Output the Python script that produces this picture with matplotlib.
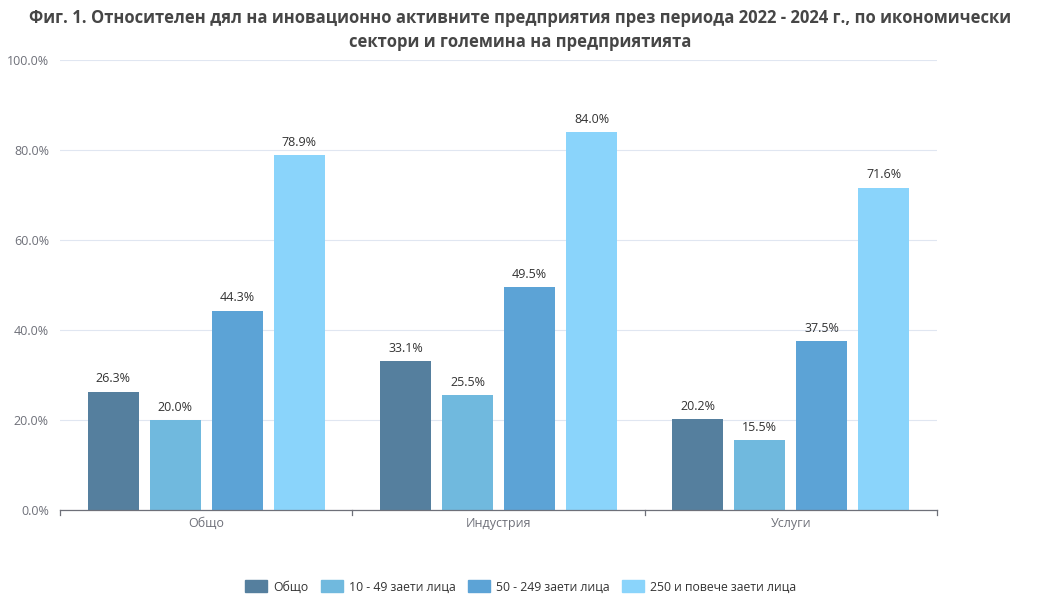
import matplotlib
matplotlib.use("Agg")
import matplotlib.pyplot as plt
import numpy as np
from matplotlib.patches import Patch

categories = ["Общо", "Индустрия", "Услуги"]
series_names = ["Общо", "10 - 49 заети лица", "50 - 249 заети лица", "250 и повече заети лица"]
values_total = [26.3, 33.1, 20.2]
values_10_49 = [20.0, 25.5, 15.5]
values_50_249 = [44.3, 49.5, 37.5]
values_250 = [78.9, 84.0, 71.6]
series_values = [values_total, values_10_49, values_50_249, values_250]
colors = ["#557f9e", "#70b9de", "#5ca3d6", "#8ad4fb"]
yticks = [0, 20, 40, 60, 80, 100]

plt.rcParams['font.family'] = ['Open Sans', 'DejaVu Sans']
fig = plt.figure(figsize=(10.41, 6.0), dpi=100)
ax = fig.add_axes([60/1041, 1-510/600, 877/1041, 450/600])

x = np.arange(len(categories))
step = 0.212
width = 0.175
offsets = (np.arange(4) - 1.5) * step
for i, (vals, col) in enumerate(zip(series_values, colors)):
    bars = ax.bar(x + offsets[i], vals, width=width, color=col, zorder=3)
    for b, v in zip(bars, vals):
        ax.text(b.get_x() + b.get_width()/2, v + 1.4, f"{v:.1f}%", ha='center', va='bottom',
                fontsize=9, color='#333333', zorder=4)

ax.set_xlim(-0.5, 2.5)
ax.set_ylim(0, 100)
ax.set_yticks(yticks)
ax.set_yticklabels([f"{t:.1f}%" for t in yticks], fontsize=9, color='#6e7079')
ax.grid(axis='y', color='#e0e6f1', linewidth=0.8, zorder=0)
ax.set_xticks(x)
ax.set_xticklabels(categories, fontsize=9, color='#6e7079')
ax.tick_params(axis='x', length=0, pad=5)
ax.tick_params(axis='y', length=0, pad=8)
for b in [-0.5, 0.5, 1.5, 2.5]:
    ax.plot([b, b], [0, -1.2], color='#6e7079', lw=0.9, clip_on=False, zorder=5)
for s in ['top', 'right', 'left']:
    ax.spines[s].set_visible(False)
ax.spines['bottom'].set_color('#6e7079')
ax.spines['bottom'].set_linewidth(0.9)
ax.spines['bottom'].set_zorder(5)

fig.text(0.5, 1-18/600, "Фиг. 1. Относителен дял на иновационно активните предприятия през периода 2022 - 2024 г., по икономически",
         ha='center', va='center', fontsize=12, fontweight='bold', color='#464646')
fig.text(0.5, 1-42/600, "сектори и големина на предприятията",
         ha='center', va='center', fontsize=12, fontweight='bold', color='#464646')

handles = [Patch(facecolor=c, edgecolor=c, label=n) for c, n in zip(colors, series_names)]
leg = fig.legend(handles=handles, loc='center', bbox_to_anchor=(0.5, 1-587/600), ncol=4,
                 frameon=False, fontsize=8.8, handlelength=1.8, handleheight=1.1,
                 columnspacing=1.0, handletextpad=0.5)
for t in leg.get_texts():
    t.set_color('#333333')

fig.savefig("out.png", dpi=100)
